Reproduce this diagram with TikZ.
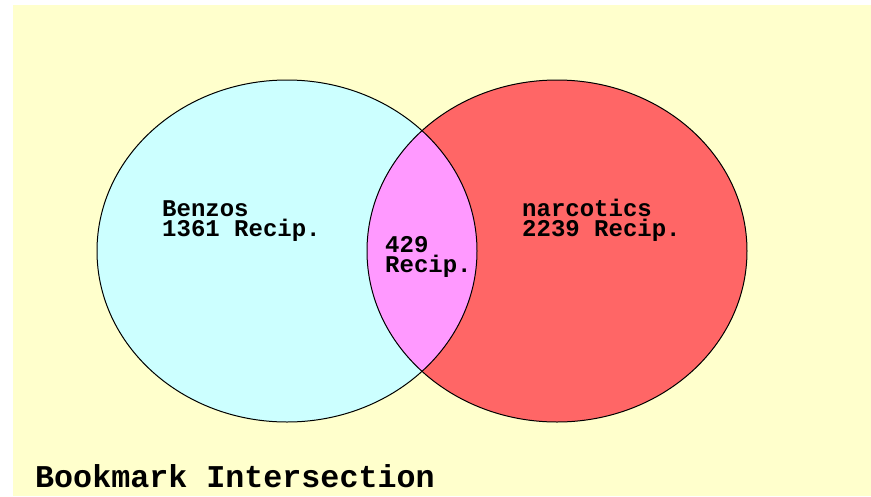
\documentclass[tikz,border=0pt]{standalone}
\usepackage{fontspec}
\setmonofont{Liberation Mono}
\definecolor{paper}{HTML}{FFFFCC}
\definecolor{benzofill}{HTML}{CCFFFF}
\definecolor{narcfill}{HTML}{FF6666}
\definecolor{bothfill}{HTML}{FF99FF}
\definecolor{ink}{HTML}{000000}

\begin{document}
\begin{tikzpicture}[x=1pt,y=-1pt,
  setlabel/.style={anchor=base west,inner sep=0pt,align=left,text=ink,
                   font=\ttfamily\bfseries\fontsize{24}{19.5}\selectfont},
  ring/.style={draw=ink,line width=1pt}]
  \useasboundingbox (0,0) rectangle (871,496);
  \fill[paper] (13,5) rectangle (871,496);
  % the two sets
  \fill[benzofill] (287,251) ellipse [x radius=190pt,y radius=171pt];
  \fill[narcfill] (557,251) ellipse [x radius=190pt,y radius=171pt];
  \begin{scope}
    \clip (287,251) ellipse [x radius=190pt,y radius=171pt];
    \fill[bothfill] (557,251) ellipse [x radius=190pt,y radius=171pt];
  \end{scope}
  \draw[ring] (287,251) ellipse [x radius=190pt,y radius=171pt];
  \draw[ring] (557,251) ellipse [x radius=190pt,y radius=171pt];
  % counts (base is the last line)
  \node[setlabel] (benzos) at (162,236) {Benzos\\1361 Recip.};
  \node[setlabel] (narcotics) at (522,236) {narcotics\\2239 Recip.};
  \node[setlabel] (both) at (385,272) {429\\Recip.};
  \node[setlabel,font=\ttfamily\bfseries\fontsize{31.7}{36}\selectfont] (title) at (35,487)
       {Bookmark Intersection};
\end{tikzpicture}
\end{document}
